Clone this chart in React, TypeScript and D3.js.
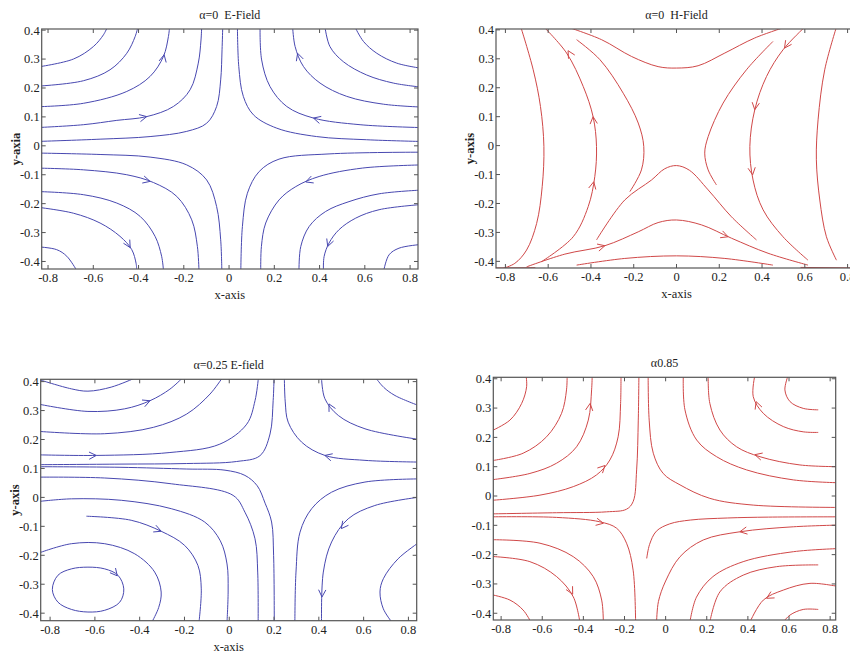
import React from 'react';
import * as d3 from 'd3';

type Pt = [number, number];
type Arrow = [number, number, number]; // x, y, heading in degrees (data space)

const xTicks = [-0.8, -0.6, -0.4, -0.2, 0, 0.2, 0.4, 0.6, 0.8];
const yTicks = [-0.4, -0.3, -0.2, -0.1, 0, 0.1, 0.2, 0.3, 0.4];

const titles = ['α=0  E-Field', 'α=0  H-Field', 'α=0.25 E-field', 'α0.85'];
const xLabels = ['x-axis', 'x-axis', 'x-axis', ''];
const yLabels = ['y-axia', 'y-axis', 'y-axis', ''];

// alpha = 0, E-field streamlines
const eField0Lines: Pt[][] = [
  [[-0.85, 0.272], [-0.688, 0.3], [-0.6, 0.343], [-0.555, 0.384], [-0.538, 0.41]],
  [[-0.85, 0.206], [-0.644, 0.225], [-0.526, 0.263], [-0.452, 0.32], [-0.415, 0.378], [-0.403, 0.41]],
  [[-0.85, 0.135], [-0.644, 0.147], [-0.452, 0.188], [-0.349, 0.24], [-0.29, 0.309], [-0.268, 0.378], [-0.263, 0.41]],
  [[-0.85, 0.063], [-0.644, 0.073], [-0.496, 0.088], [-0.364, 0.101], [-0.246, 0.136], [-0.172, 0.194], [-0.136, 0.286], [-0.124, 0.366], [-0.121, 0.41]],
  [[-0.85, 0.015], [-0.57, 0.023], [-0.349, 0.032], [-0.187, 0.05], [-0.099, 0.078], [-0.055, 0.136], [-0.037, 0.228], [-0.031, 0.332], [-0.028, 0.41]],
  [[0.037, 0.41], [0.043, 0.274], [0.063, 0.171], [0.108, 0.107], [0.211, 0.061], [0.387, 0.032], [0.608, 0.021], [0.85, 0.015]],
  [[0.137, 0.41], [0.144, 0.297], [0.181, 0.205], [0.255, 0.136], [0.373, 0.096], [0.579, 0.073], [0.85, 0.063]],
  [[0.281, 0.41], [0.292, 0.343], [0.329, 0.274], [0.402, 0.217], [0.52, 0.171], [0.682, 0.144], [0.85, 0.134]],
  [[0.424, 0.41], [0.446, 0.343], [0.505, 0.291], [0.608, 0.245], [0.726, 0.217], [0.85, 0.203]],
  [[0.557, 0.41], [0.594, 0.361], [0.653, 0.32], [0.741, 0.286], [0.85, 0.268]],
  [[-0.85, -0.025], [-0.57, -0.03], [-0.349, -0.039], [-0.187, -0.066], [-0.099, -0.118], [-0.055, -0.21], [-0.037, -0.325], [-0.032, -0.43]],
  [[-0.85, -0.077], [-0.644, -0.083], [-0.452, -0.1], [-0.334, -0.127], [-0.231, -0.175], [-0.165, -0.256], [-0.14, -0.348], [-0.133, -0.43]],
  [[-0.85, -0.158], [-0.644, -0.169], [-0.496, -0.198], [-0.393, -0.244], [-0.327, -0.313], [-0.298, -0.382], [-0.29, -0.43]],
  [[-0.85, -0.212], [-0.688, -0.233], [-0.57, -0.267], [-0.482, -0.313], [-0.43, -0.359], [-0.411, -0.406], [-0.408, -0.43]],
  [[-0.85, -0.349], [-0.762, -0.359], [-0.717, -0.382], [-0.674, -0.43]],
  [[0.85, -0.022], [0.442, -0.028], [0.221, -0.046], [0.133, -0.089], [0.081, -0.164], [0.059, -0.279], [0.052, -0.43]],
  [[0.85, -0.066], [0.589, -0.077], [0.398, -0.106], [0.295, -0.141], [0.221, -0.187], [0.162, -0.267], [0.143, -0.348], [0.14, -0.43]],
  [[0.85, -0.153], [0.663, -0.166], [0.53, -0.193], [0.427, -0.227], [0.354, -0.279], [0.317, -0.348], [0.309, -0.43]],
  [[0.85, -0.203], [0.663, -0.221], [0.56, -0.25], [0.486, -0.29], [0.442, -0.336], [0.42, -0.383], [0.417, -0.43]],
  [[0.85, -0.341], [0.751, -0.354], [0.707, -0.377], [0.684, -0.43]],
];
const eField0Arrows: Arrow[] = [
  [-0.287, 0.315, 78], [-0.364, 0.101, 12], [0.303, 0.32, 108], [0.373, 0.096, 165],
  [-0.349, -0.123, -15], [-0.437, -0.352, -60], [0.339, -0.125, 200], [0.436, -0.348, 250],
];

// alpha = 0, H-field streamlines
const hField0Lines: Pt[][] = [
  [[-0.728, 0.41], [-0.67, 0.262], [-0.636, 0.135], [-0.62, -0.003], [-0.628, -0.142], [-0.654, -0.269], [-0.701, -0.361], [-0.756, -0.407], [-0.81, -0.424]],
  [[-0.62, 0.41], [-0.514, 0.32], [-0.436, 0.204], [-0.39, 0.1], [-0.374, -0.003], [-0.382, -0.107], [-0.413, -0.211], [-0.483, -0.315], [-0.631, -0.401]],
  [[-0.467, 0.366], [-0.358, 0.297], [-0.249, 0.181], [-0.179, 0.078], [-0.153, -0.003], [-0.164, -0.084], [-0.218, -0.159]],
  [[-0.51, 0.41], [-0.35, 0.366], [-0.21, 0.308], [-0.086, 0.273], [0, 0.268], [0.101, 0.276], [0.226, 0.32], [0.366, 0.372], [0.51, 0.41]],
  [[-0.374, -0.326], [-0.242, -0.188], [-0.117, -0.119], [-0.055, -0.08], [0, -0.069], [0.06, -0.085], [0.148, -0.153], [0.257, -0.246], [0.374, -0.326]],
  [[-0.701, -0.419], [-0.522, -0.375], [-0.335, -0.346], [-0.179, -0.298], [-0.086, -0.266], [0, -0.257], [0.117, -0.274], [0.257, -0.32], [0.428, -0.372], [0.615, -0.413]],
  [[-0.467, -0.413], [-0.242, -0.39], [0, -0.381], [0.226, -0.39], [0.451, -0.413]],
  [[0.451, 0.36], [0.327, 0.262], [0.218, 0.147], [0.148, 0.031], [0.132, -0.026], [0.148, -0.084], [0.187, -0.136]],
  [[0.6, 0.41], [0.498, 0.331], [0.421, 0.239], [0.366, 0.124], [0.343, -0.003], [0.358, -0.119], [0.405, -0.222], [0.498, -0.315], [0.615, -0.396]],
  [[0.748, 0.41], [0.693, 0.262], [0.662, 0.089], [0.654, -0.049], [0.67, -0.188], [0.701, -0.315], [0.748, -0.396]],
  [[-0.86, -0.423], [-0.66, -0.422]],
  [[0.58, -0.421], [0.86, -0.423]],
];
const hField0Arrows: Arrow[] = [
  [-0.507, 0.328, 120], [-0.39, 0.1, 95], [-0.387, -0.125, 78],
  [0.505, 0.337, 235], [0.366, 0.124, 262], [0.356, -0.101, 278],
  [-0.335, -0.346, 15], [0.241, -0.315, -20],
];

// alpha = 0.25, E-field streamlines
const eField025Lines: Pt[][] = [
  [[-0.85, 0.407], [-0.705, 0.375], [-0.631, 0.367], [-0.527, 0.381], [-0.422, 0.412]],
  [[-0.85, 0.322], [-0.631, 0.297], [-0.467, 0.306], [-0.354, 0.334], [-0.265, 0.374], [-0.21, 0.412]],
  [[-0.85, 0.228], [-0.556, 0.22], [-0.339, 0.242], [-0.19, 0.288], [-0.086, 0.357], [-0.032, 0.412]],
  [[-0.85, 0.147], [-0.594, 0.145], [-0.265, 0.155], [-0.042, 0.184], [0.078, 0.253], [0.115, 0.334], [0.13, 0.412]],
  [[-0.85, 0.113], [-0.488, 0.115], [-0.19, 0.117], [0.033, 0.124], [0.137, 0.144], [0.182, 0.219], [0.196, 0.334], [0.2, 0.412]],
  [[-0.85, 0.106], [-0.488, 0.104], [-0.19, 0.098], [-0.019, 0.094], [0.07, 0.076], [0.125, 0.04], [0.16, -0.02], [0.189, -0.085], [0.198, -0.2], [0.201, -0.43]],
  [[-0.85, 0.07], [-0.556, 0.067], [-0.259, 0.047], [0.017, 0.007], [0.07, -0.051], [0.115, -0.143], [0.127, -0.258], [0.129, -0.43]],
  [[-0.85, -0.014], [-0.705, -0.005], [-0.482, -0.01], [-0.259, -0.039], [-0.11, -0.085], [-0.04, -0.15], [-0.01, -0.23], [-0.005, -0.32], [-0.01, -0.43]],
  [[-0.638, -0.065], [-0.438, -0.079], [-0.304, -0.117], [-0.199, -0.166], [-0.14, -0.235], [-0.125, -0.316], [-0.135, -0.43]],
  [[-0.85, -0.192], [-0.705, -0.16], [-0.556, -0.16], [-0.422, -0.195], [-0.333, -0.258], [-0.304, -0.327], [-0.315, -0.38], [-0.345, -0.43]],
  [[0.655, 0.412], [0.69, 0.38], [0.74, 0.352], [0.85, 0.316]],
  [[0.412, 0.412], [0.427, 0.341], [0.487, 0.283], [0.606, 0.237], [0.85, 0.2]],
  [[0.246, 0.412], [0.25, 0.33], [0.263, 0.26], [0.323, 0.191], [0.427, 0.145], [0.606, 0.128], [0.85, 0.122]],
  [[0.85, 0.064], [0.606, 0.053], [0.457, 0.018], [0.368, -0.039], [0.316, -0.12], [0.298, -0.258], [0.293, -0.43]],
  [[0.85, 0.001], [0.65, -0.028], [0.531, -0.074], [0.457, -0.154], [0.42, -0.258], [0.412, -0.43]],
  [[0.85, -0.154], [0.754, -0.212], [0.688, -0.281], [0.673, -0.327], [0.688, -0.385], [0.725, -0.43]],
];
const eField025Loop: Pt[] = [
  [-0.79, -0.318], [-0.765, -0.269], [-0.705, -0.247], [-0.631, -0.241], [-0.556, -0.247], [-0.497, -0.269],
  [-0.471, -0.316], [-0.489, -0.362], [-0.556, -0.39], [-0.631, -0.396], [-0.705, -0.387], [-0.765, -0.362],
];
const eField025Arrows: Arrow[] = [
  [-0.354, 0.334, 22], [-0.594, 0.145, 2], [-0.304, -0.117, -22], [-0.5, -0.271, -50],
  [0.445, 0.323, 118], [0.427, 0.145, 165], [0.5, -0.108, 232], [0.414, -0.344, 268],
];

// alpha = 0.85 streamlines
const field085Lines: Pt[][] = [
  [[-0.85, 0.221], [-0.757, 0.259], [-0.7, 0.316], [-0.676, 0.373], [-0.679, 0.412]],
  [[-0.85, 0.12], [-0.693, 0.146], [-0.579, 0.202], [-0.506, 0.282], [-0.482, 0.362], [-0.479, 0.412]],
  [[-0.85, 0.055], [-0.66, 0.077], [-0.53, 0.112], [-0.433, 0.168], [-0.376, 0.259], [-0.36, 0.362], [-0.357, 0.412]],
  [[-0.85, -0.015], [-0.611, 0.003], [-0.449, 0.032], [-0.336, 0.072], [-0.271, 0.123], [-0.231, 0.202], [-0.219, 0.316], [-0.217, 0.412]],
  [[-0.85, -0.061], [-0.53, -0.057], [-0.287, -0.054], [-0.19, -0.045], [-0.158, -0.019], [-0.141, 0.089], [-0.133, 0.259], [-0.13, 0.412]],
  [[-0.85, -0.071], [-0.53, -0.073], [-0.32, -0.088], [-0.238, -0.11], [-0.19, -0.161], [-0.158, -0.253], [-0.146, -0.43]],
  [[-0.85, -0.149], [-0.611, -0.161], [-0.449, -0.207], [-0.352, -0.275], [-0.311, -0.355], [-0.303, -0.43]],
  [[-0.85, -0.206], [-0.66, -0.224], [-0.53, -0.275], [-0.449, -0.344], [-0.417, -0.43]],
  [[-0.85, -0.336], [-0.757, -0.355], [-0.693, -0.389], [-0.655, -0.43]],
  [[-0.092, -0.213], [-0.078, -0.165], [-0.045, -0.12], [0.02, -0.095], [0.12, -0.082], [0.3, -0.075], [0.5, -0.072], [0.85, -0.071]],
  [[0.596, 0.412], [0.58, 0.362], [0.605, 0.322], [0.669, 0.299], [0.742, 0.294]],
  [[0.434, 0.412], [0.426, 0.339], [0.475, 0.282], [0.572, 0.237], [0.669, 0.219], [0.742, 0.217]],
  [[0.207, 0.412], [0.215, 0.316], [0.264, 0.225], [0.345, 0.168], [0.459, 0.134], [0.653, 0.106], [0.85, 0.1]],
  [[0.086, 0.412], [0.094, 0.294], [0.151, 0.191], [0.248, 0.134], [0.394, 0.089], [0.621, 0.055], [0.85, 0.045]],
  [[-0.085, 0.412], [-0.08, 0.259], [-0.06, 0.146], [-0.012, 0.077], [0.07, 0.038], [0.215, -0.008], [0.426, -0.031], [0.85, -0.039]],
  [[0.85, -0.099], [0.621, -0.105], [0.361, -0.122], [0.183, -0.15], [0.07, -0.207], [0, -0.29], [-0.035, -0.36], [-0.044, -0.43]],
  [[0.85, -0.179], [0.621, -0.19], [0.377, -0.224], [0.23, -0.275], [0.15, -0.345], [0.118, -0.43]],
  [[0.742, -0.235], [0.54, -0.241], [0.377, -0.27], [0.264, -0.327], [0.215, -0.43]],
  [[0.85, -0.31], [0.702, -0.298], [0.572, -0.321], [0.475, -0.355], [0.41, -0.43]],
  [[0.742, -0.387], [0.669, -0.387], [0.605, -0.406], [0.572, -0.43]],
];
const field085Arrows: Arrow[] = [
  [-0.367, 0.316, 82], [-0.295, 0.104, 45], [-0.303, -0.093, -12], [-0.452, -0.335, -62],
  [0.44, 0.322, 110], [0.434, 0.141, 165], [0.361, -0.122, 190], [0.491, -0.349, 210],
];

const BLUE = '#4848b0';
const RED = '#d04848';
const FONT = "'Liberation Serif', 'DejaVu Serif', serif";

const panels = [
  { lines: eField0Lines, loops: [] as Pt[][], arrows: eField0Arrows, color: BLUE,
    box: [41.7, 29, 418, 269], xd: [-0.828, 0.835], yd: [-0.426, 0.404] },
  { lines: hField0Lines, loops: [] as Pt[][], arrows: hField0Arrows, color: RED,
    box: [496, 29, 857, 268], xd: [-0.844, 0.844], yd: [-0.423, 0.403] },
  { lines: eField025Lines, loops: [eField025Loop], arrows: eField025Arrows, color: BLUE,
    box: [40.7, 379.3, 416.7, 620.7], xd: [-0.842, 0.837], yd: [-0.426, 0.408] },
  { lines: field085Lines, loops: [] as Pt[][], arrows: field085Arrows, color: RED,
    box: [493.3, 377.3, 835.7, 620], xd: [-0.838, 0.827], yd: [-0.423, 0.405] },
];

const Panel = ({ p, i }: { p: typeof panels[number]; i: number }) => {
  const [x0, y0, x1, y1] = p.box;
  const x = d3.scaleLinear().domain(p.xd).range([x0, x1]);
  const y = d3.scaleLinear().domain(p.yd).range([y1, y0]);
  const line = d3.line<Pt>().x(d => x(d[0])).y(d => y(d[1])).curve(d3.curveCatmullRom.alpha(0.5));
  const loop = d3.line<Pt>().x(d => x(d[0])).y(d => y(d[1])).curve(d3.curveCatmullRomClosed.alpha(0.5));
  const clipId = `clip-${i}`;
  const tick = 4;

  // open chevron arrowhead with its tip on the streamline
  const arrowPath = (a: Arrow) => {
    const sx = x(a[0]);
    const sy = y(a[1]);
    const h = (-a[2] * Math.PI) / 180 + Math.PI;
    const s = (27 * Math.PI) / 180;
    const L = 8;
    return `M${sx + L * Math.cos(h - s)},${sy + L * Math.sin(h - s)}L${sx},${sy}L${sx + L * Math.cos(h + s)},${sy + L * Math.sin(h + s)}`;
  };

  const cx = (x0 + x1) / 2;
  const cy = (y0 + y1) / 2;

  return (
    <g>
      <defs>
        <clipPath id={clipId}>
          <rect x={x0} y={y0} width={x1 - x0} height={y1 - y0} />
        </clipPath>
      </defs>
      <text x={cx} y={y0 - 10} textAnchor="middle" fontSize={12} fontFamily={FONT} fill="#222"
        style={{ whiteSpace: 'pre' }}>{titles[i]}</text>
      <g clipPath={`url(#${clipId})`} fill="none" stroke={p.color} strokeWidth={1}>
        {p.lines.map((l, k) => <path key={k} d={line(l) || ''} />)}
        {p.loops.map((l, k) => <path key={'o' + k} d={loop(l) || ''} />)}
        {p.arrows.map((a, k) => <path key={'a' + k} d={arrowPath(a)} />)}
      </g>
      <rect x={x0} y={y0} width={x1 - x0} height={y1 - y0} fill="none" stroke="#555" strokeWidth={1.2} />
      <g stroke="#555" strokeWidth={1}>
        {xTicks.map(t => (
          <g key={'x' + t}>
            <line x1={x(t)} x2={x(t)} y1={y1} y2={y1 - tick} />
            <line x1={x(t)} x2={x(t)} y1={y0} y2={y0 + tick} />
          </g>
        ))}
        {yTicks.map(t => (
          <g key={'y' + t}>
            <line x1={x0} x2={x0 + tick} y1={y(t)} y2={y(t)} />
            <line x1={x1} x2={x1 - tick} y1={y(t)} y2={y(t)} />
          </g>
        ))}
      </g>
      <g fontSize={12.5} fontFamily={FONT} fill="#222">
        {xTicks.map(t => (
          <text key={'xl' + t} x={x(t)} y={y1 + 13} textAnchor="middle">{String(t)}</text>
        ))}
        {yTicks.map(t => (
          <text key={'yl' + t} x={x0 - 2} y={y(t)} dy="0.35em" textAnchor="end">{String(t)}</text>
        ))}
      </g>
      {xLabels[i] && (
        <text x={cx} y={y1 + 30} textAnchor="middle" fontSize={12.5} fontFamily={FONT} fill="#222">{xLabels[i]}</text>
      )}
      {yLabels[i] && (
        <text transform={`translate(${x0 - 26},${cy}) rotate(-90)`} dy="0.35em" textAnchor="middle"
          fontSize={12.5} fontWeight="bold" fontFamily={FONT} fill="#222">{yLabels[i]}</text>
      )}
    </g>
  );
};

export default function App() {
  return (
    <svg width={850} height={654} style={{ position: 'absolute', left: 0, top: 0, background: '#fff' }}>
      <rect width={850} height={654} fill="#fff" />
      {panels.map((p, i) => <Panel key={i} p={p} i={i} />)}
    </svg>
  );
}
